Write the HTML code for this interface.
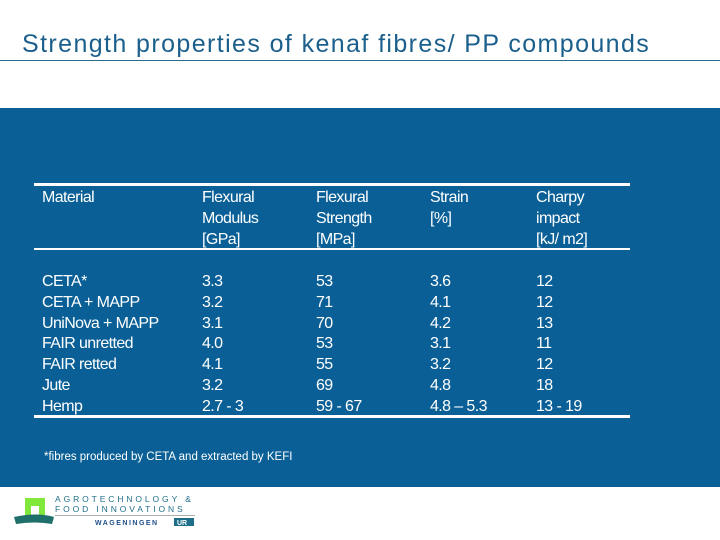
<!DOCTYPE html>
<html><head><meta charset="utf-8"><style>
body{margin:0;width:720px;height:540px;background:#fff;position:relative;overflow:hidden;font-family:"Liberation Sans",sans-serif}
.a{position:absolute;white-space:nowrap}
#panel{position:absolute;left:0;top:108px;width:720px;height:379px;background:#0a6096}
.t{position:absolute;color:#fff;font-size:16px;letter-spacing:-0.6px;line-height:21px;white-space:nowrap}
.ln{position:absolute;left:34px;width:596px;background:#fff}
</style></head><body>
<div class="a" style="left:22px;top:30px;font-size:25px;letter-spacing:1.4px;color:#1b5f8c;">Strength properties of kenaf fibres/ PP compounds</div>
<div class="a" style="left:0;top:60px;width:720px;height:1px;background:#2a6a8a"></div>
<div id="panel"></div>
<div class="ln" style="top:183px;height:3px"></div>
<div class="ln" style="top:248px;height:1.5px"></div>
<div class="ln" style="top:415px;height:3px"></div>
<div class="t" style="left:42px;top:187px">Material</div>
<div class="t" style="left:202px;top:187px">Flexural<br>Modulus<br>[GPa]</div>
<div class="t" style="left:316px;top:187px">Flexural<br>Strength<br>[MPa]</div>
<div class="t" style="left:430px;top:187px">Strain<br>[%]</div>
<div class="t" style="left:536px;top:187px">Charpy<br>impact<br>[kJ/ m2]</div>
<div class="t" style="left:42px;top:272px;line-height:20.8px">CETA*<br>CETA + MAPP<br>UniNova + MAPP<br>FAIR unretted<br>FAIR retted<br>Jute<br>Hemp</div>
<div class="t" style="left:202px;top:272px;line-height:20.8px">3.3<br>3.2<br>3.1<br>4.0<br>4.1<br>3.2<br>2.7 - 3</div>
<div class="t" style="left:316px;top:272px;line-height:20.8px">53<br>71<br>70<br>53<br>55<br>69<br>59 - 67</div>
<div class="t" style="left:430px;top:272px;line-height:20.8px">3.6<br>4.1<br>4.2<br>3.1<br>3.2<br>4.8<br>4.8 – 5.3</div>
<div class="t" style="left:536px;top:272px;line-height:20.8px">12<br>12<br>13<br>11<br>12<br>18<br>13 - 19</div>
<div class="a" style="left:44px;top:451px;font-size:11.5px;color:#fff">*fibres produced by CETA and extracted by KEFI</div>
<svg class="a" style="left:12px;top:492px" width="190" height="40">
<rect x="13" y="6" width="20" height="22" fill="#7fe83a"/><rect x="19" y="14" width="8" height="14" fill="#fff"/>
<path d="M2 25 Q25 20 42 25 L40 32 Q23 29 4 32 Z" fill="#1f6f6a"/>
<text x="43" y="10" font-size="8.5" letter-spacing="2.9" fill="#1f6f8a" font-family="Liberation Sans">AGROTECHNOLOGY &amp;</text>
<text x="43" y="20" font-size="8.5" letter-spacing="2.9" fill="#1f6f8a" font-family="Liberation Sans">FOOD INNOVATIONS</text>
<rect x="43" y="23" width="140" height="0.8" fill="#999"/>
<text x="83" y="33" font-size="7" letter-spacing="1.5" fill="#1f4f8a" font-weight="bold" font-family="Liberation Sans">WAGENINGEN</text>
<rect x="162" y="26" width="20" height="8" fill="#1f6f8a"/><text x="165" y="33" font-size="7" fill="#fff" font-weight="bold" font-family="Liberation Sans">UR</text>
</svg>
</body></html>
